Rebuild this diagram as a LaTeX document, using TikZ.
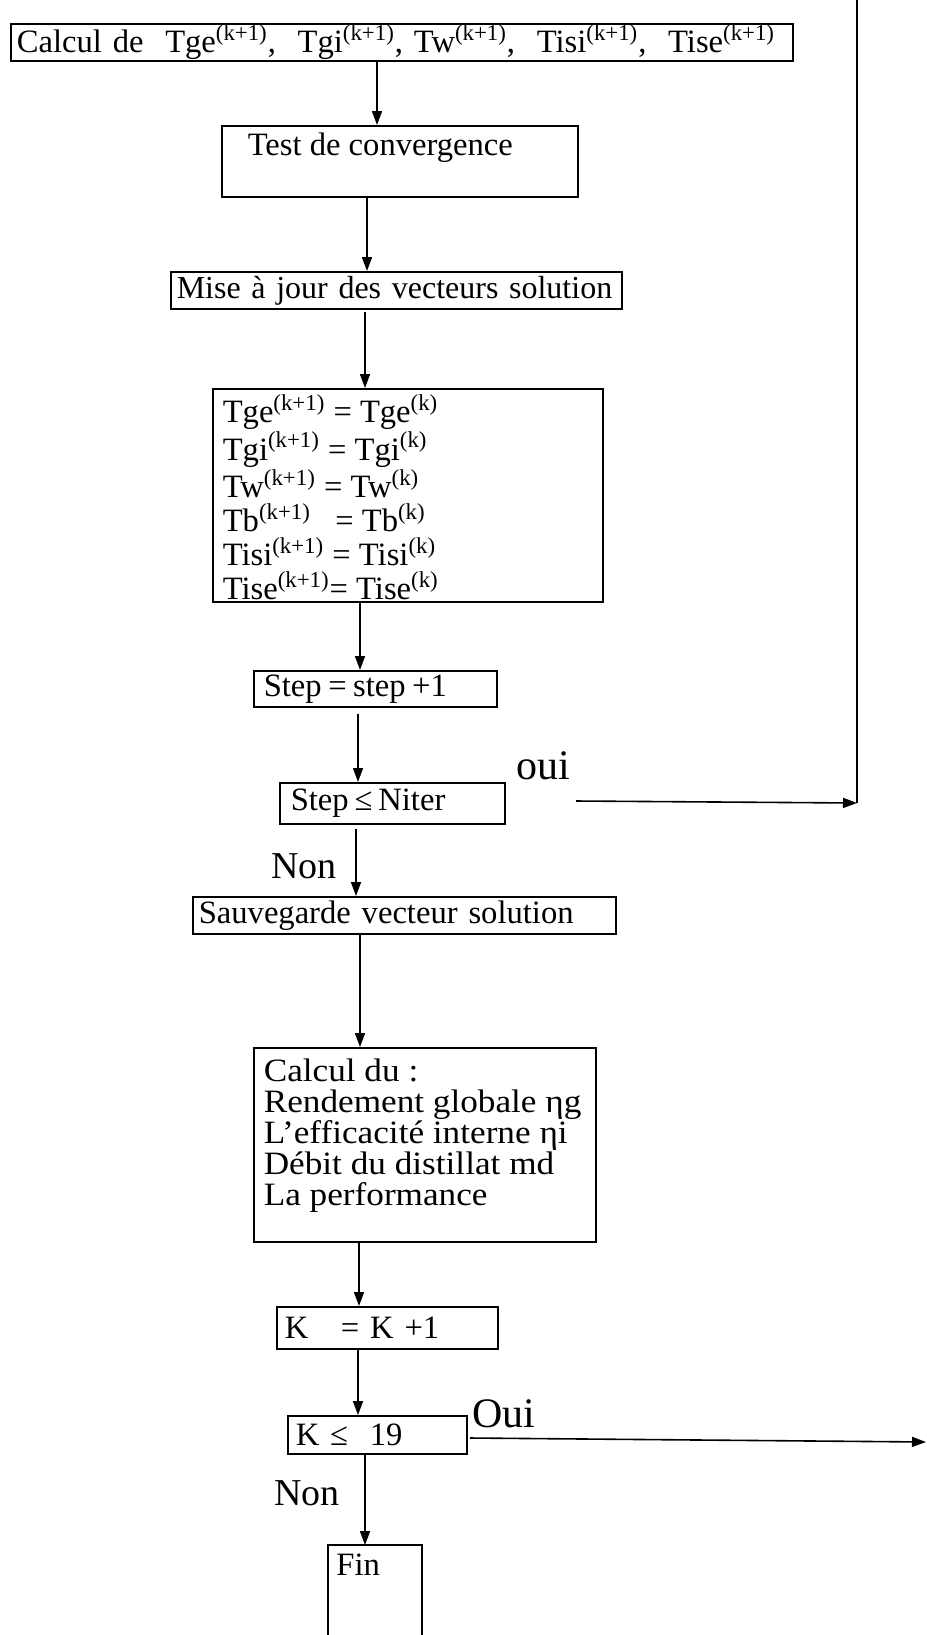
\documentclass[tikz,border=0pt]{standalone}
\usepackage{fontspec}
\setmainfont{Liberation Serif}
\usetikzlibrary{arrows.meta,calc}
\newcommand{\kp}{\textsuperscript{(k+1)}}
\newcommand{\kk}{\textsuperscript{(k)}}
\begin{document}
\begin{tikzpicture}[x=0.5pt,y=-0.5pt,
  box/.style={draw, line width=0.8pt, anchor=north west, inner xsep=3pt, inner ysep=0pt, align=left, font=\fontsize{16.3}{17}\selectfont},
  plain/.style={anchor=north west, inner xsep=3pt, inner ysep=0pt, align=left, font=\fontsize{16.3}{17}\selectfont},
  arr/.style={line width=0.8pt, -{Triangle[length=7pt,width=5pt]}},
  ln/.style={line width=0.8pt},
  lbl/.style={inner sep=0pt, anchor=west, font=\fontsize{19}{20}\selectfont}]
\useasboundingbox (0,0) rectangle (927,1635);

% boxes
\node[box, minimum height=18.5pt, text width=385pt] (top) at (10,23)
  {\mbox{Calcul de\ \ Tge\kp,\ \ Tgi\kp,\ Tw\kp,\ \ Tisi\kp,\ \ Tise\kp}};
\node[box, inner xsep=0pt] (test) at (221,125)
  {\parbox[t][35.5pt][t]{178pt}{\hspace*{13pt}\rule{0pt}{15pt}Test de convergence}};
\node[box, minimum height=18.5pt, text width=219.5pt, font=\fontsize{16}{17}\selectfont] (mise) at (170,271)
  {\mbox{Mise à jour des vecteurs solution}};
\node[box, inner xsep=0pt] (eq) at (212,388)
  {\parbox[t][106.5pt][t]{195pt}{\leftskip=5pt\rule{0pt}{17pt}Tge\kp\ = Tge\kk\\
   Tgi\kp\ = Tgi\kk\\ Tw\kp\ = Tw\kk\\ Tb\kp\ \ \ = Tb\kk\\ Tisi\kp\ = Tisi\kk\\ Tise\kp= Tise\kk}};
\node[box, minimum height=18pt, text width=111.5pt, inner xsep=5pt] (step) at (253,670)
  {\mbox{Step\hspace{0.2em}=\hspace{0.2em}step\hspace{0.2em}+1}};
\node[box, minimum height=20.5pt, text width=101.5pt, inner xsep=5.5pt] (niter) at (279,782)
  {\mbox{Step\hspace{0.18em}≤\hspace{0.18em}Niter}};
\node[box, minimum height=18.5pt, text width=205.5pt] (sauv) at (192,896)
  {\mbox{Sauvegarde vecteur solution}};
\node[box, inner xsep=0pt, font=\fontsize{16.3}{15.4}\selectfont\addfontfeature{FakeStretch=1.08}] (calc) at (253,1047)
  {\parbox[t][97pt][t]{171pt}{\leftskip=5pt\rule{0pt}{17pt}Calcul du :\\ Rendement globale ηg\\
   L’efficacité interne ηi\\ Débit du distillat md\\ La performance}};
\node[box, minimum height=21pt, text width=102.5pt, inner xsep=4pt] (kk) at (276,1306)
  {\mbox{K\ \ \ = K +1}};
\node[box, minimum height=19pt, text width=81.5pt, inner xsep=4pt] (k19) at (287,1415)
  {\mbox{K ≤\ \ 19}};
\node[plain, text width=38.5pt, inner xsep=4pt, text height=15pt, text depth=30pt] (fin) at (328,1545)
  {Fin};
\draw[ln] (fin.south west) -- (fin.north west) -- (fin.north east) -- (fin.south east);

% labels
\node[lbl, font=\fontsize{21}{22}\selectfont] (oui) at (516,766) {oui};
\node[lbl] (non1) at (271,866) {Non};
\node[lbl, font=\fontsize{21}{22}\selectfont] (oui2) at (472,1414) {Oui};
\node[lbl] (non2) at (274,1493) {Non};

% connectors
\draw[arr] (top.south -| 377,0) -- (test.north -| 377,0);
\draw[arr] (test.south -| 367,0) -- (mise.north -| 367,0);
\draw[arr] ($(mise.south -| 365,0)+(0,2)$) -- (eq.north -| 365,0);
\draw[arr] (eq.south -| 360,0) -- (step.north -| 360,0);
\draw[arr] ($(step.south -| 358,0)+(0,6)$) -- (niter.north -| 358,0);
\draw[arr] ($(niter.south -| 356,0)+(0,4)$) -- (sauv.north -| 356,0);
\draw[arr] (sauv.south -| 360,0) -- (calc.north -| 360,0);
\draw[arr] (calc.south -| 359,0) -- (kk.north -| 359,0);
\draw[arr] (kk.south -| 358,0) -- (k19.north -| 358,0);
\draw[arr] (k19.south -| 365,0) -- (fin.north -| 365,0);

\coordinate (rtop) at (857,0);
\coordinate (rend) at (857,803);
\coordinate (ouistart) at (576,801);
\coordinate (oui2start) at (470,1438);
\coordinate (oui2end) at (926,1442);
\draw[ln] (rtop) -- (rend);
\draw[arr] (ouistart) -- (rend);
\draw[arr] (oui2start) -- (oui2end);
\end{tikzpicture}
\end{document}
